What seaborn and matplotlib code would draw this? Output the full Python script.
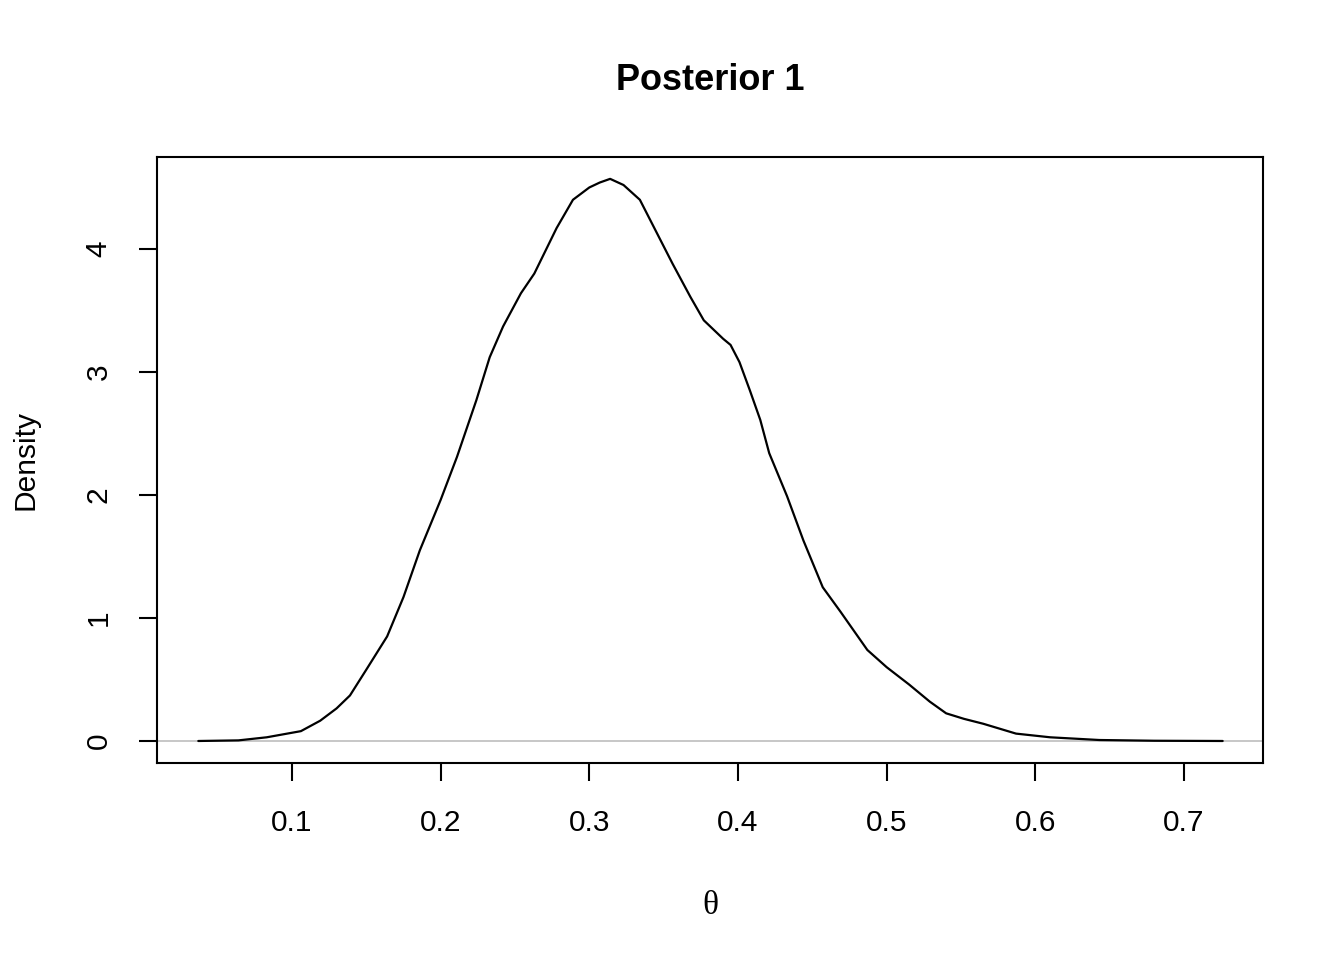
import numpy as np
import pandas as pd
import matplotlib
matplotlib.use("Agg")
import matplotlib.pyplot as plt
import seaborn as sns

# posterior density
theta = [0.037, 0.064, 0.083, 0.106, 0.119, 0.130, 0.139, 0.150, 0.164, 0.175,
         0.186, 0.200, 0.211, 0.224, 0.233, 0.242, 0.254, 0.263, 0.278, 0.289,
         0.300, 0.307, 0.314, 0.323, 0.334, 0.345, 0.356, 0.368, 0.377, 0.390,
         0.395, 0.401, 0.408, 0.415, 0.421, 0.433, 0.444, 0.457, 0.469, 0.487,
         0.500, 0.515, 0.529, 0.540, 0.552, 0.565, 0.587, 0.610, 0.643, 0.680,
         0.726]
density = [0.000, 0.005, 0.030, 0.080, 0.165, 0.265, 0.370, 0.580, 0.850, 1.170,
           1.550, 1.960, 2.310, 2.770, 3.120, 3.370, 3.640, 3.800, 4.170, 4.400,
           4.500, 4.540, 4.570, 4.520, 4.400, 4.140, 3.880, 3.610, 3.420, 3.270,
           3.220, 3.080, 2.850, 2.610, 2.340, 1.990, 1.630, 1.250, 1.050, 0.740,
           0.600, 0.460, 0.320, 0.225, 0.180, 0.140, 0.060, 0.030, 0.008, 0.002,
           0.000]
xticks = [0.1, 0.2, 0.3, 0.4, 0.5, 0.6, 0.7]
yticks = [0, 1, 2, 3, 4]

df = pd.DataFrame({"theta": theta, "density": density})

sns.set_style("ticks")
plt.rcParams["font.family"] = ["Liberation Sans", "DejaVu Sans"]
plt.rcParams["text.color"] = "black"
plt.rcParams["axes.labelcolor"] = "black"
plt.rcParams["xtick.color"] = "black"
plt.rcParams["ytick.color"] = "black"

fig = plt.figure(figsize=(13.44, 9.6), dpi=100)
ax = fig.add_axes([0.1168, 0.2052, 0.8229, 0.6313])

ax.axhline(0, color="#bebebe", lw=1.2, zorder=1)
sns.lineplot(data=df, x="theta", y="density", ax=ax, color="black",
             lw=1.6, estimator=None, sort=False, zorder=2)

ax.set_xlim(0.0092, 0.7531)
ax.set_ylim(-0.179, 4.748)
ax.set_xticks(xticks)
ax.set_xticklabels([str(t) for t in xticks])
ax.set_yticks(yticks)
ax.set_yticklabels([str(t) for t in yticks], rotation=90, va="center")

for s in ax.spines.values():
    s.set_visible(True)
    s.set_linewidth(1.5)
    s.set_color("black")
ax.tick_params(axis="both", length=13, width=1.5, labelsize=21.5,
               color="black", labelcolor="black")
ax.tick_params(axis="x", pad=20)
ax.tick_params(axis="y", pad=19)

ax.set_xlabel("θ", fontsize=24, family=["Liberation Serif", "DejaVu Serif"])
ax.set_ylabel("Density", fontsize=21.5)
ax.xaxis.set_label_coords(0.5, -0.21)
ax.yaxis.set_label_coords(-0.106, 0.5)
ax.set_title("Posterior 1", fontsize=26, fontweight="bold", pad=48,
             color="black")

fig.savefig("out.png", dpi=100, facecolor="white")
